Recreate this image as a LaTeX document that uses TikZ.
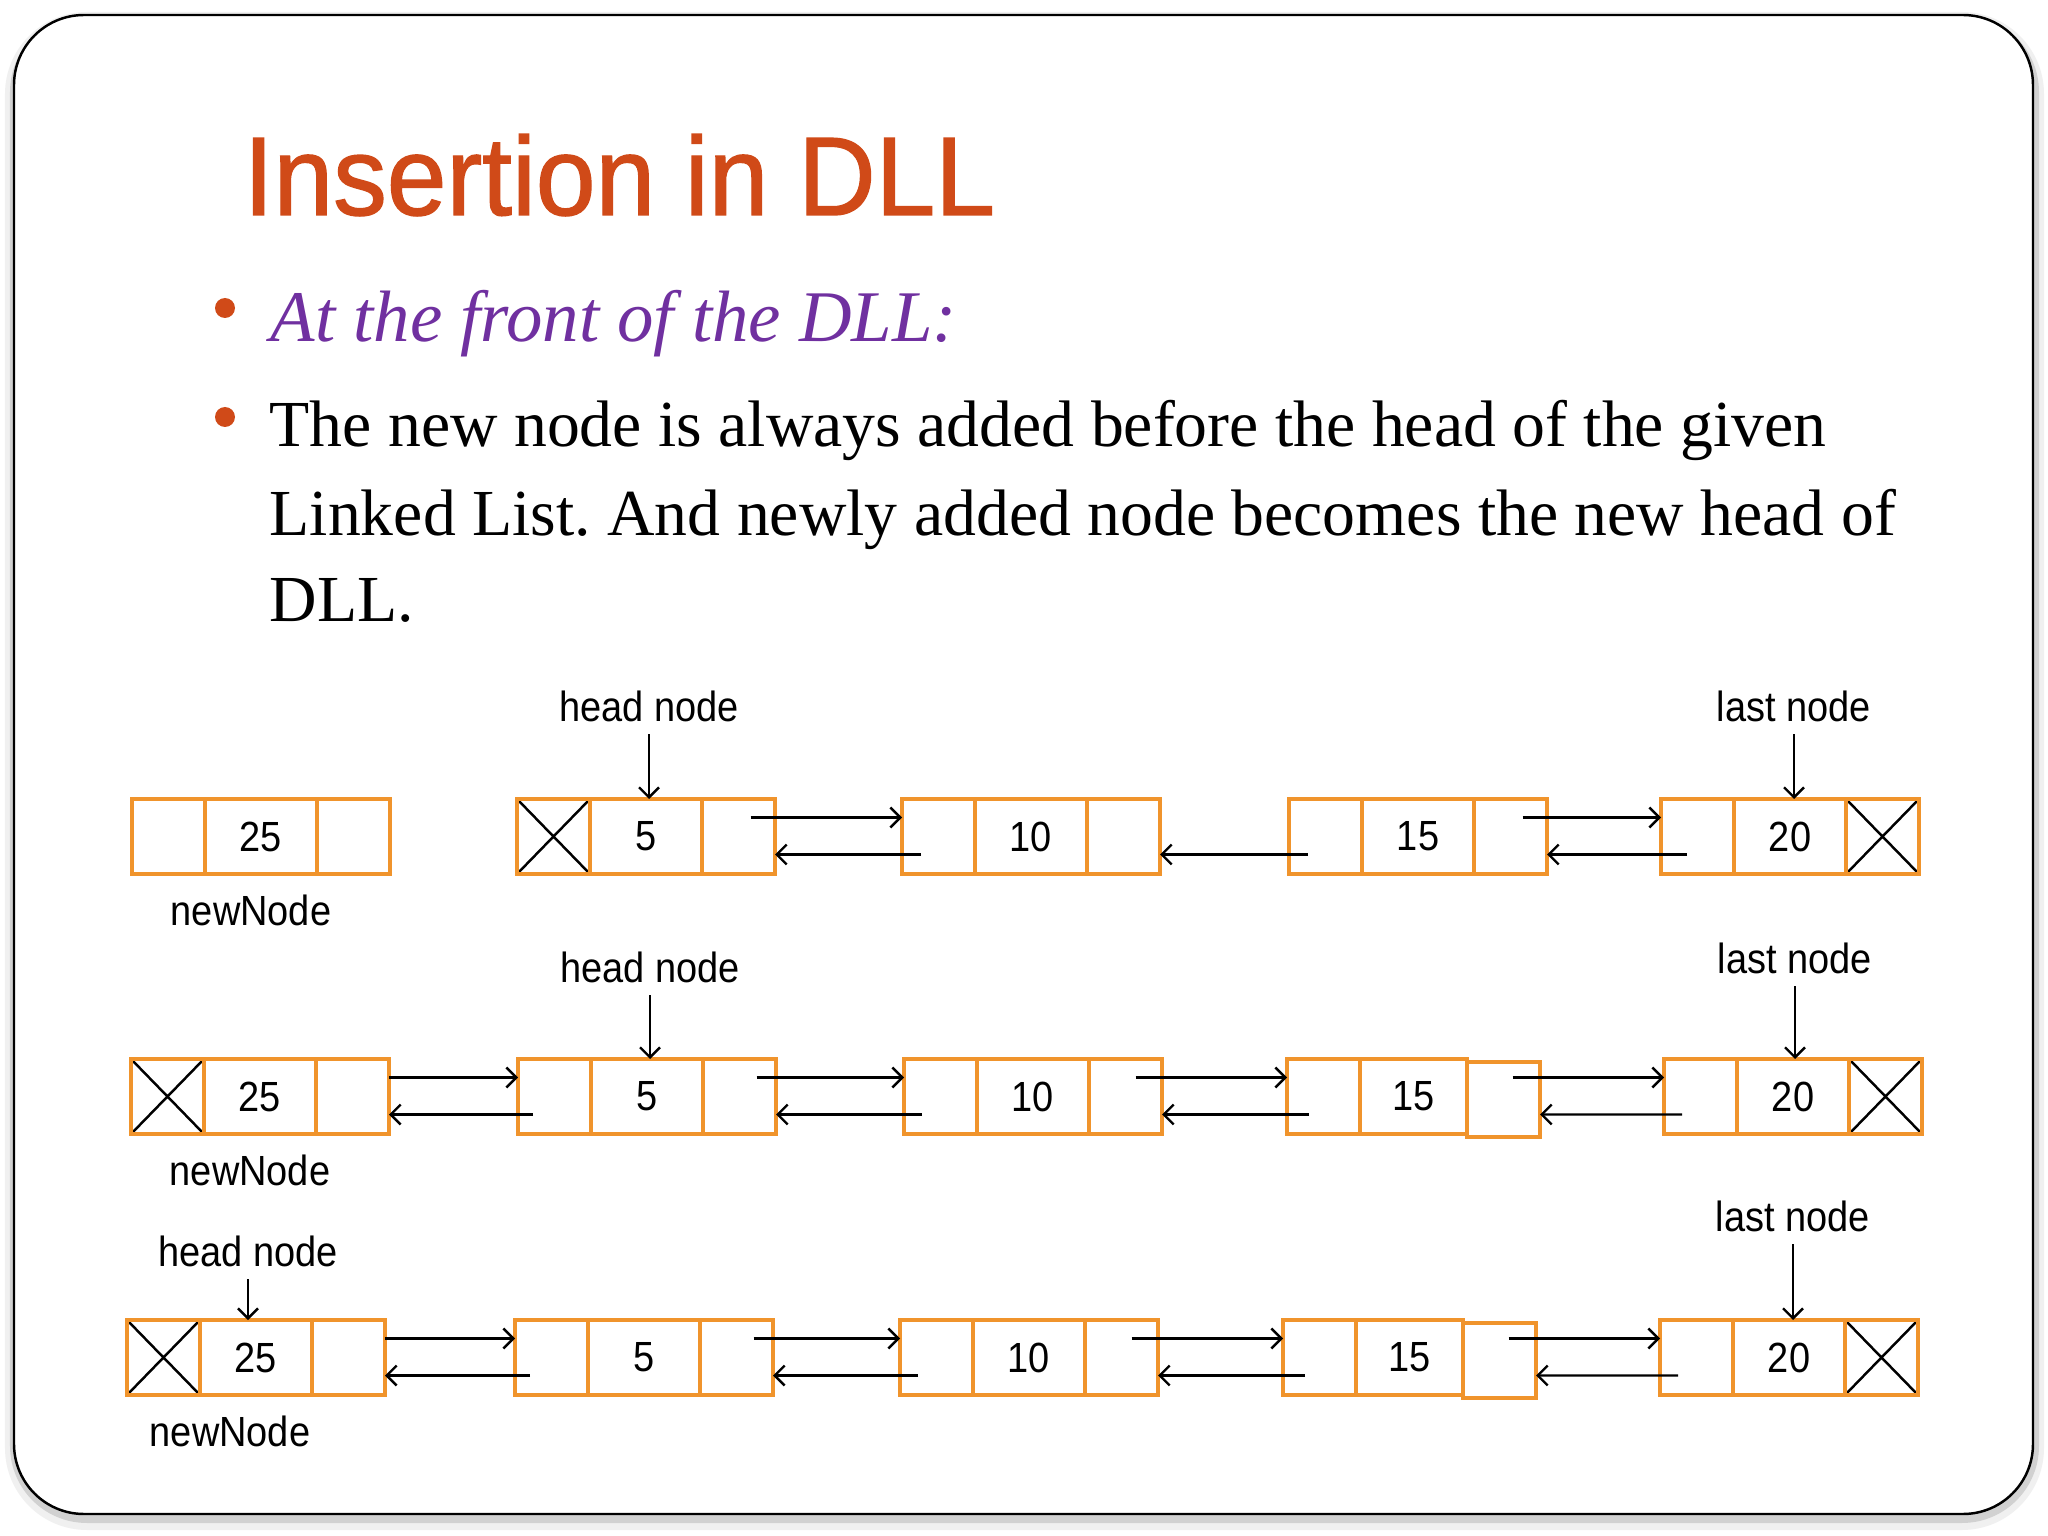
\documentclass[tikz,border=0pt]{standalone}
\usepackage{fontspec}
\setmainfont{Liberation Serif}
\newfontfamily\titlefont[FakeStretch=0.96,FakeBold=1.2]{Liberation Sans}
\newfontfamily\figfont[FakeStretch=0.9]{Liberation Sans}
\usepackage{tikz}
\usetikzlibrary{arrows.meta, calc, positioning}
\frenchspacing

\definecolor{titlered}{RGB}{208,74,24}
\definecolor{headpurple}{RGB}{112,48,160}
\definecolor{boxorange}{RGB}{240,148,44}

\tikzset{
    cell/.style={draw=boxorange, line width=0.9pt, minimum width=0.73cm, minimum height=0.75cm, inner sep=0pt, outer sep=0pt},
    datacell/.style={cell, minimum width=1.12cm, font=\figfont\fontsize{12}{14}\selectfont},
    nilcell/.style={cell, path picture={\draw[black, line width=0.7pt] (path picture bounding box.north west) -- (path picture bounding box.south east) (path picture bounding box.south west) -- (path picture bounding box.north east);}},
    lbl/.style={font=\figfont\fontsize{12}{14}\selectfont},
    link/.style={->, line width=0.7pt},
    dot/.style={circle, fill=titlered, minimum size=0.2cm, inner sep=0pt},
    bodyline/.style={anchor=base west, inner sep=0pt, font=\fontsize{18.7}{25}\selectfont}
}

\begin{document}
\begin{tikzpicture}[>={Straight Barb[length=1mm,width=2mm]}]
    \useasboundingbox (0,0) rectangle (20.48,-15.36);
    \fill[white] (0,0) rectangle (20.48,-15.36);

    % Slide frame with soft shadow
    \draw[line width=2mm, black!6, rounded corners=0.72cm] (0.15,-0.22) rectangle (20.34,-15.2);
    \draw[line width=1mm, black!18, rounded corners=0.72cm] (0.15,-0.2) rectangle (20.34,-15.18);
    \draw[fill=white, line width=0.7pt, rounded corners=0.7cm] (0.14,-0.15) rectangle (20.33,-15.14);

    % Title and text
    \node[anchor=base west, inner sep=0pt, text=titlered, font=\titlefont\fontsize{31.8}{36}\selectfont] (title) at (2.43,-2.15) {Insertion in DLL};
    \node[dot] (dot1) at (2.25,-3.08) {};
    \node[dot] (dot2) at (2.25,-4.17) {};
    \node[anchor=base west, inner sep=0pt, text=headpurple, font=\itshape\fontsize{20.7}{24}\selectfont] (front) at (2.70,-3.42) {At the front of the DLL:};
    \node[bodyline] (body1) at (2.69,-4.47) {The new node is always added before the head of the given};
    \node[bodyline] (body2) at (2.69,-5.35) {Linked List. And newly added node becomes the new head of};
    \node[bodyline] (body3) at (2.69,-6.22) {DLL.};

    % Row 1: before insertion
    \node[cell] (new1-p) at (1.685,-8.365) {};
    \node[datacell, right=0pt of new1-p] (new1-d) {25};
    \node[cell, right=0pt of new1-d] (new1-n) {};
    \node[nilcell] (five1-p) at (5.535,-8.365) {};
    \node[datacell, right=0pt of five1-p] (five1-d) {5};
    \node[cell, right=0pt of five1-d] (five1-n) {};
    \node[cell] (ten1-p) at (9.385,-8.365) {};
    \node[datacell, right=0pt of ten1-p] (ten1-d) {10};
    \node[cell, right=0pt of ten1-d] (ten1-n) {};
    \node[cell] (fifteen1-p) at (13.255,-8.365) {};
    \node[datacell, right=0pt of fifteen1-p] (fifteen1-d) {15};
    \node[cell, right=0pt of fifteen1-d] (fifteen1-n) {};
    \node[cell] (twenty1-p) at (16.975,-8.365) {};
    \node[datacell, right=0pt of twenty1-p] (twenty1-d) {20};
    \node[nilcell, right=0pt of twenty1-d] (twenty1-n) {};

    \draw[link] ([xshift=1.2mm,yshift=1.9mm]five1-n.center) -- ([yshift=1.9mm]ten1-p.west);
    \draw[link] ([xshift=1.9mm,yshift=-1.8mm]ten1-p.west) -- ([yshift=-1.8mm]five1-n.east);
    \draw[link] ([xshift=1.9mm,yshift=-1.8mm]fifteen1-p.west) -- ([yshift=-1.8mm]ten1-n.east);
    \draw[link] ([xshift=1.2mm,yshift=1.9mm]fifteen1-n.center) -- ([yshift=1.9mm]twenty1-p.west);
    \draw[link] ([xshift=2.6mm,yshift=-1.8mm]twenty1-p.west) -- ([yshift=-1.8mm]fifteen1-n.east);

    \node[lbl, above=0.65cm of five1-d, xshift=0.3mm] (head1) {head node};
    \draw[link] (head1.south) -- (head1.south |- five1-d.north);
    \node[lbl, above=0.65cm of twenty1-d, xshift=0.4mm] (last1) {last node};
    \draw[link] (last1.south) -- (last1.south |- twenty1-d.north);
    \node[lbl, below=0.9mm of new1-d, xshift=-1mm] (newlbl1) {newNode};

    % Row 2: new node linked in front
    \node[nilcell] (new2-p) at (1.675,-10.965) {};
    \node[datacell, right=0pt of new2-p] (new2-d) {25};
    \node[cell, right=0pt of new2-d] (new2-n) {};
    \node[cell] (five2-p) at (5.545,-10.965) {};
    \node[datacell, right=0pt of five2-p] (five2-d) {5};
    \node[cell, right=0pt of five2-d] (five2-n) {};
    \node[cell] (ten2-p) at (9.405,-10.965) {};
    \node[datacell, right=0pt of ten2-p] (ten2-d) {10};
    \node[cell, right=0pt of ten2-d] (ten2-n) {};
    \node[cell] (fifteen2-p) at (13.235,-10.965) {};
    \node[datacell, right=0pt of fifteen2-p, minimum width=1.07cm] (fifteen2-d) {15};
    \node[cell, right=0pt of fifteen2-d, yshift=-0.3mm] (fifteen2-n) {};
    \node[cell] (twenty2-p) at (17.005,-10.965) {};
    \node[datacell, right=0pt of twenty2-p] (twenty2-d) {20};
    \node[nilcell, right=0pt of twenty2-d] (twenty2-n) {};

    \draw[link] ([yshift=1.9mm]new2-n.east) -- ([yshift=1.9mm]five2-p.west);
    \draw[link] ([xshift=1.5mm,yshift=-1.8mm]five2-p.west) -- ([yshift=-1.8mm]new2-n.east);
    \draw[link] ([xshift=1.7mm,yshift=1.9mm]five2-n.center) -- ([yshift=1.9mm]ten2-p.west);
    \draw[link] ([xshift=1.8mm,yshift=-1.8mm]ten2-p.west) -- ([yshift=-1.8mm]five2-n.east);
    \draw[link] ([xshift=1mm,yshift=1.9mm]ten2-n.center) -- ([yshift=1.9mm]fifteen2-p.west);
    \draw[link] ([xshift=2.2mm,yshift=-1.8mm]fifteen2-p.west) -- ([yshift=-1.8mm]ten2-n.east);
    \draw[link] ([xshift=0.9mm,yshift=2.2mm]fifteen2-n.center) -- ([yshift=1.9mm]twenty2-p.west);
    \draw[link] ([xshift=1.8mm,yshift=-1.8mm]twenty2-p.west) -- ([yshift=-1.5mm]fifteen2-n.east);

    \node[lbl, above=0.64cm of five2-d, xshift=0.3mm] (head2) {head node};
    \draw[link] (head2.south) -- (head2.south |- five2-d.north);
    \node[lbl, above=0.73cm of twenty2-d, xshift=0.2mm] (last2) {last node};
    \draw[link] (last2.south) -- (last2.south |- twenty2-d.north);
    \node[lbl, below=0.9mm of new2-d, xshift=-1mm] (newlbl2) {newNode};

    % Row 3: newNode becomes the head
    \node[nilcell] (new3-p) at (1.635,-13.575) {};
    \node[datacell, right=0pt of new3-p] (new3-d) {25};
    \node[cell, right=0pt of new3-d] (new3-n) {};
    \node[cell] (five3-p) at (5.515,-13.575) {};
    \node[datacell, right=0pt of five3-p] (five3-d) {5};
    \node[cell, right=0pt of five3-d] (five3-n) {};
    \node[cell] (ten3-p) at (9.365,-13.575) {};
    \node[datacell, right=0pt of ten3-p] (ten3-d) {10};
    \node[cell, right=0pt of ten3-d] (ten3-n) {};
    \node[cell] (fifteen3-p) at (13.195,-13.575) {};
    \node[datacell, right=0pt of fifteen3-p, minimum width=1.07cm] (fifteen3-d) {15};
    \node[cell, right=0pt of fifteen3-d, yshift=-0.3mm] (fifteen3-n) {};
    \node[cell] (twenty3-p) at (16.965,-13.575) {};
    \node[datacell, right=0pt of twenty3-p] (twenty3-d) {20};
    \node[nilcell, right=0pt of twenty3-d] (twenty3-n) {};

    \draw[link] ([yshift=1.9mm]new3-n.east) -- ([yshift=1.9mm]five3-p.west);
    \draw[link] ([xshift=1.5mm,yshift=-1.8mm]five3-p.west) -- ([yshift=-1.8mm]new3-n.east);
    \draw[link] ([xshift=1.7mm,yshift=1.9mm]five3-n.center) -- ([yshift=1.9mm]ten3-p.west);
    \draw[link] ([xshift=1.8mm,yshift=-1.8mm]ten3-p.west) -- ([yshift=-1.8mm]five3-n.east);
    \draw[link] ([xshift=1mm,yshift=1.9mm]ten3-n.center) -- ([yshift=1.9mm]fifteen3-p.west);
    \draw[link] ([xshift=2.2mm,yshift=-1.8mm]fifteen3-p.west) -- ([yshift=-1.8mm]ten3-n.east);
    \draw[link] ([xshift=0.9mm,yshift=2.2mm]fifteen3-n.center) -- ([yshift=1.9mm]twenty3-p.west);
    \draw[link] ([xshift=1.8mm,yshift=-1.8mm]twenty3-p.west) -- ([yshift=-1.5mm]fifteen3-n.east);

    \node[lbl, above=0.41cm of new3-d, xshift=-0.8mm] (head3) {head node};
    \draw[link] (head3.south) -- (head3.south |- new3-d.north);
    \node[lbl, above=0.76cm of twenty3-d, xshift=0.4mm] (last3) {last node};
    \draw[link] (last3.south) -- (last3.south |- twenty3-d.north);
    \node[lbl, below=0.9mm of new3-d, xshift=-2.6mm] (newlbl3) {newNode};
\end{tikzpicture}
\end{document}
